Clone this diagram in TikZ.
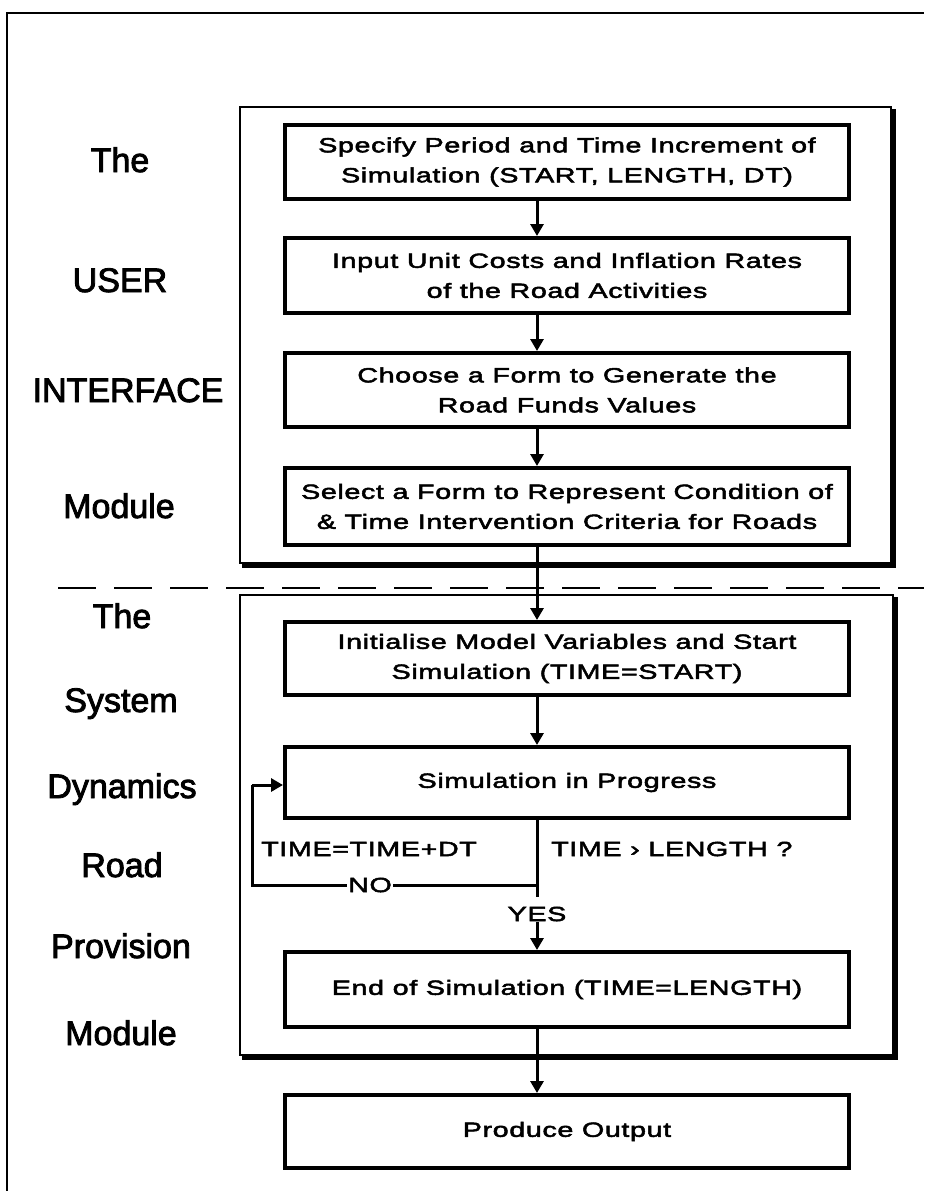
\documentclass[tikz,border=0pt]{standalone}
\usepackage{fontspec}
\setmainfont[FakeBold=2.5]{Liberation Sans}
\newfontfamily\boxfont[FakeStretch=1.4,LetterSpace=3,FakeBold=2.5]{Liberation Sans}
\usetikzlibrary{arrows.meta}
\begin{document}
\begin{tikzpicture}[x=1pt,y=-1pt,
  stepbox/.style={draw, line width=4pt, minimum width=564pt, minimum height=74pt,
    inner sep=0pt, align=center, font=\boxfont\fontsize{20.5}{30}\selectfont},
  side/.style={anchor=base, inner sep=0pt, font=\fontsize{34}{40}\selectfont},
  arr/.style={line width=3pt, -{Triangle[length=12pt,width=13pt]}},
  flow/.style={line width=3pt},
  lbl/.style={inner sep=1pt, font=\boxfont\fontsize{20.5}{30}\selectfont},
  frame/.style={line width=1.5pt},
  panel/.style={line width=1.1pt},
  shadow/.style={line width=4pt}]
\useasboundingbox (0,0) rectangle (924,1191);

% outer frame
\draw[frame] (7,1191) -- (7,13) -- (924,13);

% panels
\draw[panel] (240,107) rectangle (891,563);
\draw[shadow] (242,566) -- (894,566) -- (894,109);
\draw[panel] (240,595) rectangle (893,1055);
\draw[shadow] (242,1058) -- (896,1058) -- (896,597);

% separator
\draw[line width=2pt, dash pattern=on 38pt off 18pt] (58,588) -- (924,588);

% side labels
\node[side] (u1) at (120,172) {The};
\node[side] (u2) at (120,292) {USER};
\node[side] (u3) at (128,402) {INTERFACE};
\node[side] (u4) at (119,518) {Module};
\node[side] (s1) at (122,628) {The};
\node[side] (s2) at (121,712) {System};
\node[side] (s3) at (122,798) {Dynamics};
\node[side] (s4) at (122,877) {Road};
\node[side] (s5) at (121,958) {Provision};
\node[side] (s6) at (121,1045) {Module};

% boxes
\node[stepbox] (b1) at (567,162) {Specify Period and Time Increment of\\Simulation (START, LENGTH, DT)};
\node[stepbox, minimum height=75pt] (b2) at (567,275.5) {Input Unit Costs and Inflation Rates\\of the Road Activities};
\node[stepbox] (b3) at (567,390) {Choose a Form to Generate the\\Road Funds Values};
\node[stepbox, minimum height=77pt] (b4) at (567,506.5) {Select a Form to Represent Condition of\\\& Time Intervention Criteria for Roads};
\node[stepbox, minimum height=73pt] (b5) at (567,658.5) {Initialise Model Variables and Start\\Simulation (TIME=START)};
\node[stepbox, minimum height=71pt] (b6) at (567,782.5) {Simulation in Progress};
\node[stepbox, minimum height=75pt] (b7) at (567,989.5) {End of Simulation (TIME=LENGTH)};
\node[stepbox, minimum height=73pt] (b8) at (567,1131.5) {Produce Output};

% arrow column
\coordinate (ax) at (537,0);
\draw[arr] (b1.south -| ax) -- (b2.north -| ax);
\draw[arr] (b2.south -| ax) -- (b3.north -| ax);
\draw[arr] (b3.south -| ax) -- (b4.north -| ax);
\draw[arr] (b4.south -| ax) -- (b5.north -| ax);
\draw[arr] (b5.south -| ax) -- (b6.north -| ax);

% decision
\coordinate (dec) at (537,897);
\coordinate (nocorner) at (537,885);
\coordinate (loopbl) at (252,885);
\coordinate (looptl) at (252,785);
\draw[flow] (b6.south -| ax) -- (dec);
\draw[flow] (nocorner) -- (loopbl) -- (looptl);
\draw[arr] (looptl) -- (b6.west |- looptl);
\node[lbl, fill=white] (no) at (370,885) {NO};
\node[lbl, anchor=west] (inc) at (260,849) {TIME=TIME+DT};
\node[lbl, anchor=west] (cond) at (550,849) {TIME › LENGTH ?};
\node[lbl] (yes) at (537,914) {YES};
\draw[arr] (yes.south) -- (b7.north -| ax);
\draw[arr] (b7.south -| ax) -- (b8.north -| ax);
\end{tikzpicture}
\end{document}
